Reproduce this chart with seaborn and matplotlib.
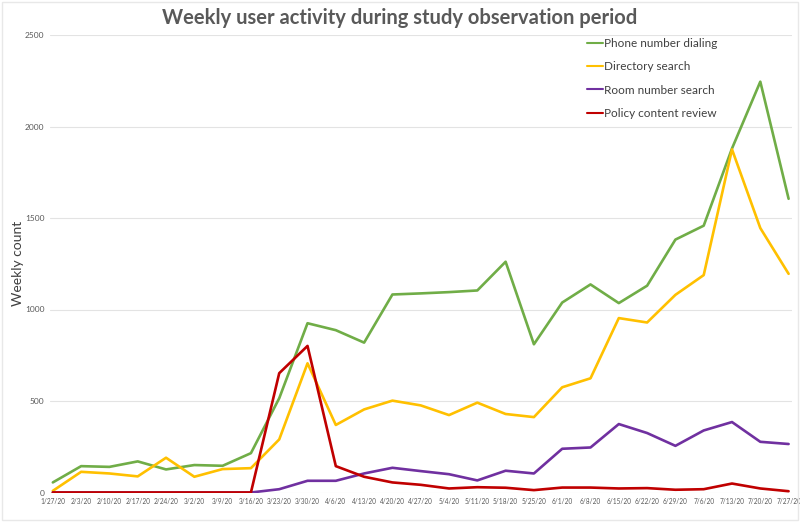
import matplotlib
matplotlib.use("Agg")
import matplotlib.pyplot as plt
import seaborn as sns
import pandas as pd
import numpy as np

weeks = ["1/27/20", "2/3/20", "2/10/20", "2/17/20", "2/24/20", "3/2/20", "3/9/20",
         "3/16/20", "3/23/20", "3/30/20", "4/6/20", "4/13/20", "4/20/20", "4/27/20",
         "5/4/20", "5/11/20", "5/18/20", "5/25/20", "6/1/20", "6/8/20", "6/15/20",
         "6/22/20", "6/29/20", "7/6/20", "7/13/20", "7/20/20", "7/27/20"]

phone = [55, 144, 140, 170, 126, 150, 146, 215, 515, 925, 887, 819, 1082, 1088,
         1095, 1104, 1261, 810, 1038, 1137, 1035, 1130, 1382, 1458, 1880, 2245, 1605]
directory = [9, 113, 104, 88, 190, 86, 128, 133, 290, 706, 369, 454, 502, 476,
             423, 491, 429, 412, 575, 624, 953, 929, 1080, 1188, 1875, 1445, 1195]
room = [0, 0, 0, 0, 0, 0, 0, 0, 18, 64, 64, 104, 135, 117,
        100, 66, 119, 104, 239, 246, 374, 325, 255, 339, 385, 277, 265]
policy = [0, 0, 0, 0, 0, 0, 0, 0, 652, 801, 144, 86, 55, 42,
          22, 29, 26, 13, 27, 27, 22, 24, 15, 18, 49, 22, 7]

series_names = ["Phone number dialing", "Directory search", "Room number search", "Policy content review"]
colors = ["#70AD47", "#FFC000", "#7030A0", "#C00000"]

rows = []
for name, vals in zip(series_names, [phone, directory, room, policy]):
    for i, v in enumerate(vals):
        rows.append({"idx": i, "week": weeks[i], "count": v, "series": name})
df = pd.DataFrame(rows)

sns.set_theme(style="white")
plt.rcParams['font.family'] = ['Lato', 'DejaVu Sans']

fig = plt.figure(figsize=(8, 5.22), dpi=100)
ax = fig.add_axes([50/800, (522-492.5)/522, (792-50)/800, (492.5-35)/522])

sns.lineplot(data=df, x="idx", y="count", hue="series", hue_order=series_names,
             palette=colors, linewidth=1.9, ax=ax, sort=False, estimator=None)

ax.set_xlim(-0.1, 26.12)
ax.set_ylim(0, 2500)
ax.set_yticks([0, 500, 1000, 1500, 2000, 2500])
ax.set_yticklabels(["0", "500", "1000", "1500", "2000", "2500"], fontsize=6, color="#595959")
ax.set_xticks(range(len(weeks)))
ax.set_xticklabels(weeks, fontsize=4.7, color="#595959")
ax.tick_params(axis="both", length=0, pad=4)
ax.yaxis.grid(True, color="#E3E3E3", linewidth=0.8)
ax.set_axisbelow(True)
for s in ax.spines.values():
    s.set_visible(False)
ax.set_xlabel("")
ax.set_ylabel("")

fig.text(18/800, 1 - 263/522, "Weekly count", rotation=90, ha="center", va="center",
         fontsize=10, color="#404040")

fig.text(0.5, 1 - 18/522, "Weekly user activity during study observation period",
         ha="center", va="center", fontsize=14.5, fontweight="bold", color="#595959")

handles, labels = ax.get_legend_handles_labels()
leg = ax.legend(handles, labels, loc="upper left", bbox_to_anchor=(582/800, 1 - 33/522),
                bbox_transform=fig.transFigure, frameon=False, fontsize=8.5,
                handlelength=1.4, handletextpad=0.1, labelspacing=1.05, borderaxespad=0)
for t in leg.get_texts():
    t.set_color("#404040")
for l in leg.get_lines():
    l.set_linewidth(1.5)

fig.patches.append(plt.Rectangle((0.002, 0.004), 0.996, 0.993, transform=fig.transFigure,
                                 fill=False, edgecolor="#E8E8E8", linewidth=1))

fig.savefig("out.png", dpi=100)
